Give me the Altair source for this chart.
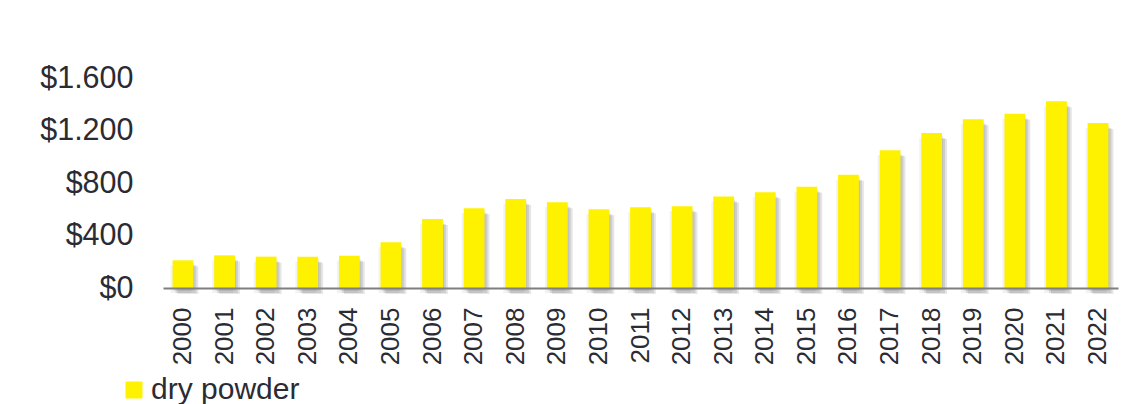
import altair as alt
import pandas as pd

years = [str(y) for y in range(2000, 2023)]
values = [211, 249, 239, 238, 246, 348, 526, 607, 678, 653, 600, 615, 622,
          698, 729, 772, 863, 1049, 1181, 1285, 1328, 1422, 1257]
series = ["dry powder"] * len(years)
y_ticks = [0, 400, 800, 1200, 1600]

df = pd.DataFrame({"year": years, "value": values, "series": series})

FONT = "Liberation Sans"
TEXT = "#2b2b33"
YELLOW = "#FFF200"

x_enc = alt.X("year:N", sort=years,
              scale=alt.Scale(paddingInner=0.5, paddingOuter=0.23),
              axis=alt.Axis(title=None, labelAngle=270, labelAlign="right",
                            labelBaseline="middle", labelFontSize=26,
                            labelPadding=19, labelColor=TEXT, labelFont=FONT,
                            ticks=False, domainColor="#7f7f7f", domainWidth=2,
                            zindex=1))
y_enc = alt.Y("value:Q", scale=alt.Scale(domain=[0, 1600], nice=False),
              axis=alt.Axis(title=None, values=y_ticks, grid=False, domain=False,
                            ticks=False, labelFontSize=30.5, labelPadding=30,
                            labelColor=TEXT, labelFont=FONT,
                            labelExpr='"$" + replace(format(datum.value, ","), ",", ".")'))

base = alt.Chart(df)

shadows = []
for dx, dy, op in [(1, 3, 0.10), (3, 5, 0.15), (5, 6, 0.13), (-2, 5, 0.07)]:
    shadows.append(base.mark_bar(color="#404040", opacity=op, xOffset=dx, yOffset=dy)
                   .encode(x=x_enc, y=y_enc))

bars = base.mark_bar().encode(
    x=x_enc, y=y_enc,
    color=alt.Color("series:N",
                    scale=alt.Scale(domain=["dry powder"], range=[YELLOW]),
                    legend=alt.Legend(title=None, orient="none", legendX=-44,
                                      legendY=297, symbolType="square",
                                      symbolSize=289, symbolStrokeWidth=0,
                                      labelFontSize=30, labelFont=FONT,
                                      labelColor=TEXT, labelOffset=2)),
)

chart = alt.layer(*shadows, bars).properties(
    width=955, height=210,
    background="white",
    autosize=alt.AutoSizeParams(type="none"),
    padding={"left": 155, "top": 70, "right": 11, "bottom": 116},
).configure_view(strokeWidth=0, stroke=None)

chart.save("out.html", embed_options={"renderer": "svg", "actions": False})
